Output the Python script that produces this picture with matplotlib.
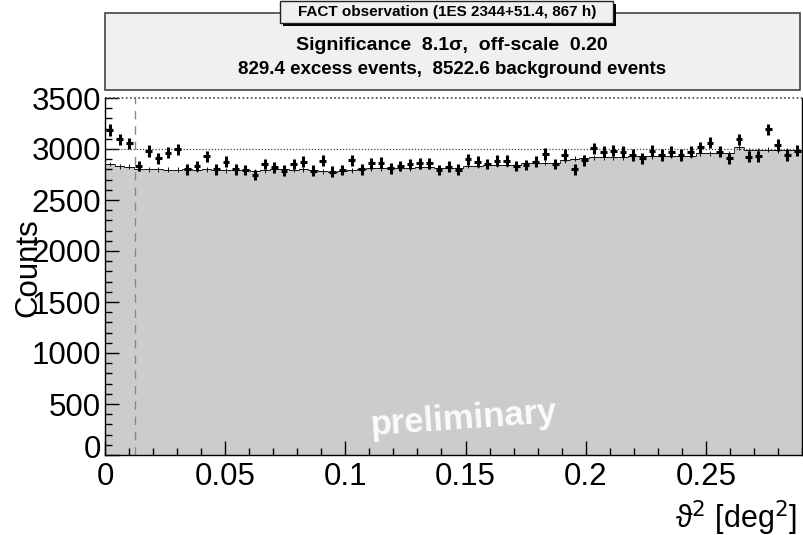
import numpy as np
import matplotlib
matplotlib.use('Agg')
import matplotlib.pyplot as plt
from matplotlib.patches import Rectangle
from matplotlib.transforms import ScaledTranslation

plt.rcParams['font.family'] = ['Liberation Sans', 'DejaVu Sans']

# theta^2 binning, 72 bins between 0 and 0.29 deg^2
theta_min = 0.0
theta_max = 0.29
n_bins = 72
theta_cut = 0.0124

# on-source counts
on_counts = [3186, 3095, 3056, 2833, 2980, 2909, 2964, 2997, 2801, 2833,
             2931, 2801, 2876, 2801, 2794, 2745, 2853, 2820, 2787, 2853,
             2876, 2787, 2886, 2778, 2794, 2892, 2801, 2860, 2866, 2811,
             2833, 2853, 2860, 2860, 2794, 2827, 2797, 2899, 2876, 2853,
             2886, 2886, 2833, 2843, 2876, 2951, 2853, 2941, 2801, 2892,
             3007, 2974, 2984, 2974, 2941, 2909, 2984, 2941, 2974, 2941,
             2974, 3016, 3062, 2974, 2909, 3095, 2925, 2931, 3193, 3039,
             2941, 2984]

# scaled off-source counts (grey histogram)
off_counts = [2853, 2830, 2825, 2805, 2800, 2800, 2798, 2795, 2800, 2795,
              2800, 2795, 2790, 2795, 2790, 2785, 2790, 2800, 2800, 2795,
              2800, 2790, 2780, 2778, 2780, 2790, 2800, 2811, 2811, 2815,
              2811, 2810, 2827, 2827, 2811, 2811, 2811, 2833, 2835, 2843,
              2843, 2845, 2843, 2860, 2860, 2866, 2866, 2890, 2905, 2915,
              2918, 2918, 2920, 2918, 2931, 2931, 2930, 2931, 2935, 2931,
              2935, 2957, 2957, 2957, 2960, 3016, 2990, 2990, 2995, 2990,
              2990, 2990]
off_scale = 0.2

title = 'FACT observation (1ES 2344+51.4, 867 h)'
line1 = 'Significance  8.1σ,  off-scale  0.20'
line2 = '829.4 excess events,  8522.6 background events'

edges = np.linspace(theta_min, theta_max, n_bins + 1)
centers = 0.5 * (edges[:-1] + edges[1:])
width = edges[1] - edges[0]
on = np.array(on_counts, dtype=float)
off = np.array(off_counts, dtype=float)

W, H = 804, 535
fig = plt.figure(figsize=(W / 100, H / 100), dpi=100)
ax = fig.add_axes([105 / W, 80 / H, 697 / W, 357 / H])

# background histogram
ax.stairs(off, edges, fill=True, color='#cccccc', zorder=1)
ax.stairs(off, edges, color='#222222', lw=0.6, zorder=2)
ax.errorbar(centers, off, yerr=np.sqrt(off * off_scale), xerr=0.45 * width,
            fmt='none', ecolor='#111111', elinewidth=0.7, zorder=3)

# signal region cut and reference lines
ax.axvline(theta_cut, color='#888888', lw=1.0, ls=(0, (6, 5)), zorder=2)
ax.axhline(3000, color='#444444', lw=0.9, ls=(0, (1, 1.5)), zorder=2)
ax.axhline(3500, color='#444444', lw=1.2, ls=(0, (1, 1.5)), zorder=2, clip_on=False)

# on data
ax.errorbar(centers, on, yerr=np.sqrt(on), xerr=0.35 * width,
            fmt='none', ecolor='black', elinewidth=2.2, zorder=4)

ax.set_xlim(theta_min, theta_max)
ax.set_ylim(0, 3500)
ax.set_xticks(np.arange(0, 0.2901, 0.05))
ax.set_xticklabels(['0', '0.05', '0.1', '0.15', '0.2', '0.25'])
ax.set_xticks(np.arange(0, 0.2901, 0.01), minor=True)
ax.set_yticks(np.arange(0, 3501, 500))
ax.set_yticks(np.arange(0, 3501, 100), minor=True)
ax.tick_params(which='both', direction='in', labelsize=22.5, width=1.0)
ax.tick_params(which='major', length=10)
ax.tick_params(which='minor', length=5)
ax.tick_params(axis='x', pad=5)
ax.tick_params(axis='y', pad=3)
ax.spines['top'].set_visible(False)
for s in ['left', 'bottom', 'right']:
    ax.spines[s].set_linewidth(1.0)

# ROOT lifts the y "0" a bit so it clears the x "0"
fig.canvas.draw()
zero_lab = ax.yaxis.get_major_ticks()[0].label1
zero_lab.set_transform(zero_lab.get_transform() + ScaledTranslation(0, 8 / 100, fig.dpi_scale_trans))

fig.text(797 / W, 1 - 518 / H, r'ϑ$^{2}$ [deg$^{2}$]', ha='right', va='center', fontsize=22)
fig.text(28 / W, 1 - 268 / H, 'Counts', rotation=90, ha='center', va='center', fontsize=22.5)

# watermark
fig.text(464 / W, 1 - 419 / H, 'preliminary', ha='center', va='center', fontsize=25,
         fontweight='bold', color='white', alpha=0.92, rotation=4)

# statistics pave
fig.add_artist(Rectangle((105 / W, 1 - 90 / H), 695 / W, 77 / H, transform=fig.transFigure,
                         facecolor='#f0f0f0', edgecolor='#444444', lw=1.2))
fig.text(452 / W, 1 - 45 / H, line1, ha='center', va='center', fontsize=14, fontweight='bold')
fig.text(452 / W, 1 - 70 / H, line2, ha='center', va='center', fontsize=13.5, fontweight='bold')

# title pave with shadow
fig.add_artist(Rectangle((283 / W, 1 - 26 / H), 333 / W, 22 / H, transform=fig.transFigure,
                         facecolor='black', edgecolor='none'))
fig.add_artist(Rectangle((280 / W, 1 - 23 / H), 333 / W, 22 / H, transform=fig.transFigure,
                         facecolor='#f0f0f0', edgecolor='#222222', lw=1.0))
fig.text(447 / W, 1 - 12 / H, title, ha='center', va='center', fontsize=11, fontweight='bold')

fig.savefig('out.png', dpi=100)
